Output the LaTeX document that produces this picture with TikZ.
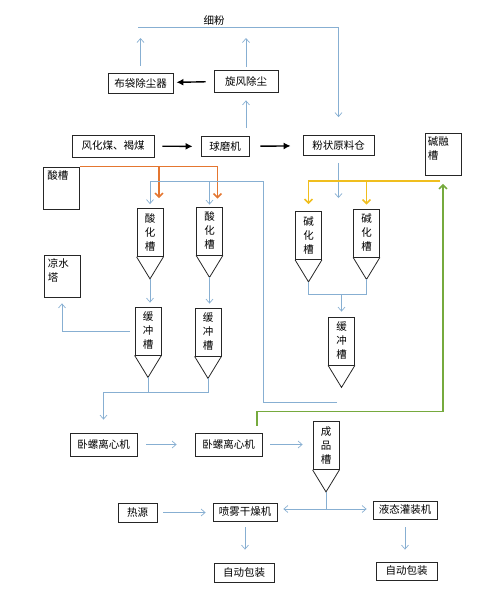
\documentclass[tikz,border=0pt]{standalone}
\usepackage{fontspec}
\setmainfont{Noto Sans CJK SC}
\usetikzlibrary{arrows.meta, calc, positioning}
\definecolor{pipe}{RGB}{135,175,210}
\definecolor{acid}{RGB}{228,118,48}
\definecolor{lye}{RGB}{240,190,30}
\definecolor{back}{RGB}{118,170,62}

\begin{document}
\begin{tikzpicture}[x=1pt, y=-1pt, font=\fontsize{10.5}{14}\selectfont,
    unit/.style={rectangle, draw=black!85, line width=0.8pt, inner sep=0pt, minimum width=#1, minimum height=20},
    vessel/.style={rectangle, draw=black!85, line width=0.8pt, minimum width=36, minimum height=42},
    tank/.style={rectangle, draw=black!85, line width=0.8pt, inner sep=0pt, minimum width=26, minimum height=48, align=center},
    main/.style={-{Latex[length=7pt, width=7pt]}, line width=1.4pt, shorten <=8, shorten >=8},
    flow/.style={-{Straight Barb[length=4pt, width=7pt]}, draw=pipe, line width=0.7pt},
    pline/.style={draw=pipe, line width=0.7pt},
    hot/.style={-{Straight Barb[length=4pt, width=8pt]}, draw=#1, line width=1.5pt}]

    \useasboundingbox (0,0) rectangle (503,600);

    % grinding
    \node[unit=65] (bd) at (140.5,83) {布袋除尘器};
    \node[unit=64, minimum height=22] (xf) at (246,81) {旋风除尘};
    \node[unit=82, minimum height=22] (fh) at (113,146) {风化煤、褐煤};
    \node[unit=48] (qm) at (225,146.5) {球磨机};
    \node[unit=71] (fz) at (338.5,145.5) {粉状原料仓};

    % vessels
    \node[vessel, label={[anchor=north west, align=left, inner sep=3pt]north west:碱融\\槽}] (jr) at (443,154.5) {};
    \node[vessel, label={[anchor=north west, inner sep=4pt]north west:酸槽}] (sc) at (61.5,188) {};
    \node[vessel, label={[anchor=north west, align=left, inner sep=4pt]north west:凉水\\塔}] (ls) at (62,276) {};

    % tanks
    \node[tank] (sh1) at (150,232.5) {酸\\化\\槽};
    \node[tank] (sh2) at (209.5,231) {酸\\化\\槽};
    \node[tank] (hc1) at (148,331) {缓\\冲\\槽};
    \node[tank] (hc2) at (208,332) {缓\\冲\\槽};
    \node[tank] (jh1) at (308.5,235.5) {碱\\化\\槽};
    \node[tank] (jh2) at (366.5,233) {碱\\化\\槽};
    \node[tank] (hc3) at (341.5,341) {缓\\冲\\槽};
    \node[tank] (cp) at (326,445.5) {成\\品\\槽};
    \foreach \t in {sh1,sh2,hc1,hc2,jh1,jh2,hc3,cp}
        \draw[black!85, line width=0.8pt] (\t.south west) -- ($(\t.south)+(0,22)$) coordinate (\t-tip) -- (\t.south east);

    % separation and packing
    \node[unit=67, minimum height=23] (wl1) at (103.5,444.5) {卧螺离心机};
    \node[unit=67, minimum height=23] (wl2) at (228.5,444.5) {卧螺离心机};
    \node[unit=39, minimum height=19] (ry) at (137.5,512.5) {热源};
    \node[unit=64, minimum height=18] (pw) at (245,512) {喷雾干燥机};
    \node[unit=64, minimum height=18] (yt) at (405,510) {液态灌装机};
    \node[unit=60, minimum height=19] (zd1) at (244,572.5) {自动包装};
    \node[unit=61, minimum height=18] (zd2) at (406.5,571) {自动包装};

    \coordinate (fl) at (138,27);
    \coordinate (fzo) at (338.5,198);
    \coordinate (rt) at (337,402);
    \coordinate (rc) at (263,181);
    \coordinate (am) at (103.5,392);
    \coordinate (km) at (341.5,294);
    \coordinate (cq) at (326,509);
    \coordinate (ye) at (440,181);

    % black arrows
    \draw[main, shorten >=3] (xf) -- (bd);
    \draw[main] (fh) -- (qm);
    \draw[main, shorten <=11, shorten >=12] (qm) -- (fz);

    % fine powder
    \draw[flow, shorten <=8, shorten >=8] (qm.north -| xf) -- (xf);
    \draw[flow, shorten <=7, shorten >=11] (bd.north) -- (bd.north |- fl);
    \draw[flow, shorten <=3, shorten >=11] (xf.north) -- (xf.north |- fl);
    \draw[flow, shorten >=18] (fl) -| node[pos=0.19, above, black, inner sep=1pt] {细粉} (fz);
    \draw[flow, shorten <=7] (fz.south) -- (fzo);

    % acid line
    \draw[hot=acid, shorten >=8] (sc.north east) -| ([xshift=8]sh2.north);
    \draw[hot=acid, shorten >=10] ([xshift=9]sh1.north |- sc.north) -- ([xshift=9]sh1.north);
    \draw[flow, shorten >=4] (rt) -| (rc) -| (sh1.north);
    \draw[flow, shorten >=2] (sh2.north |- rc) -- (sh2.north);
    \draw[flow, shorten >=4] (sh1-tip) -- (sh1-tip |- hc1.north);
    \draw[flow, shorten >=4] (sh2-tip) -- (sh2-tip |- hc2.north);
    \draw[flow, shorten <=5, shorten >=6] (hc1.west) -| (ls.south);
    \draw[pline] (hc1-tip) -- (hc1-tip |- am);
    \draw[flow, shorten >=13] (hc2-tip) |- (am) -- (wl1);

    % lye line
    \draw[hot=lye, shorten >=7] (ye) -| (jh1.north);
    \draw[hot=lye, shorten >=4] (jh2.north |- ye) -- (jh2.north);
    \draw[pline] (jh1-tip) |- (jh2-tip |- km) -- (jh2-tip);
    \draw[flow, shorten >=5] (km) -- (hc3);
    \draw[hot=back, shorten <=7, shorten >=8] ([xshift=28.5]wl2.north) -- ++(0,-21) -| (jr.south);

    % product
    \draw[flow, shorten <=9, shorten >=18] (wl1) -- (wl2);
    \draw[flow, shorten <=8, shorten >=10] (wl2.east) -- (wl2.east -| cp.west);
    \draw[pline] (cp-tip) -- (cq);
    \draw[flow, shorten >=6] (cq) -- (cq -| pw.east);
    \draw[flow, shorten >=6] (cq) -- (cq -| yt.west);
    \draw[flow, shorten <=6, shorten >=7] (ry.east) -- (ry.east -| pw.west);
    \draw[flow, shorten <=6, shorten >=13] (pw.south) -- (pw.south |- zd1.north);
    \draw[flow, shorten <=8, shorten >=12] (yt.south) -- (yt.south |- zd2.north);

\end{tikzpicture}
\end{document}
